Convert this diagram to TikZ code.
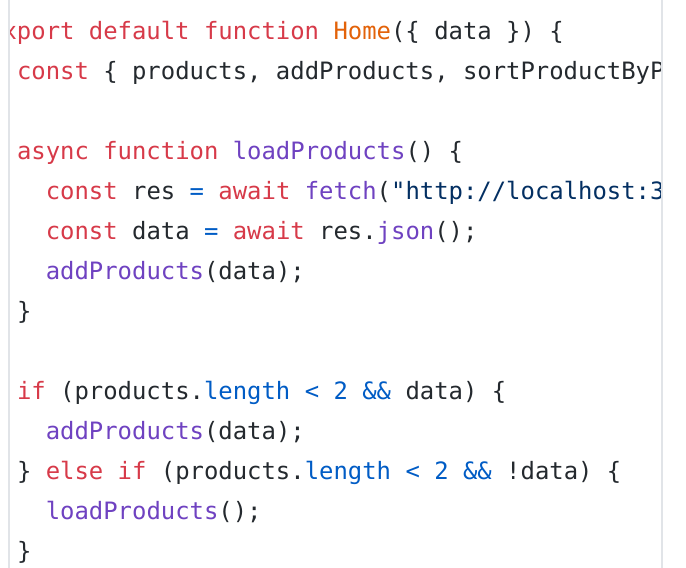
\documentclass[tikz,border=0pt]{standalone}
\usepackage{fontspec}
\newfontfamily\codefont{DejaVu Sans Mono}
\definecolor{kw}{HTML}{D73A49}
\definecolor{fn}{HTML}{6F42C1}
\definecolor{cls}{HTML}{E36209}
\definecolor{cst}{HTML}{005CC5}
\definecolor{str}{HTML}{032F62}
\definecolor{txt}{HTML}{24292E}
\definecolor{rule}{HTML}{E1E4E8}
\newcommand{\K}[1]{\textcolor{kw}{#1}}
\newcommand{\F}[1]{\textcolor{fn}{#1}}
\newcommand{\C}[1]{\textcolor{cst}{#1}}
\newcommand{\Sx}[1]{\textcolor{str}{#1}}
\newcommand{\Hm}[1]{\textcolor{cls}{#1}}
\begin{document}
\begin{tikzpicture}[x=1pt,y=-1pt,
  codeline/.style={anchor=base west,inner sep=0pt,outer sep=0pt,text=txt,
    font=\codefont\fontsize{23.9pt}{40pt}\selectfont\frenchspacing},
  border/.style={draw=rule,line width=2pt}]
\useasboundingbox (0,0) rectangle (686,568);
\fill[white] (0,0) rectangle (686,568);
\begin{scope}
\clip (10,0) rectangle (661,568);
\def\w{14.4}
\def\xo{-11.8}
\node[codeline] (l1) at (\xo,39) {\K{export} \K{default} \K{function} \Hm{Home}(\{ data \}) \{};
\node[codeline] (l2) at (\xo+2*\w,79) {\K{const} \{ products, addProducts, sortProductByPrice \}};
\node[codeline] (l3) at (\xo+2*\w,159) {\K{async} \K{function} \F{loadProducts}() \{};
\node[codeline] (l4) at (\xo+4*\w,199) {\K{const} res \C{=} \K{await} \F{fetch}(\Sx{"http://localhost:3000"});};
\node[codeline] (l5) at (\xo+4*\w,239) {\K{const} data \C{=} \K{await} res.\F{json}();};
\node[codeline] (l6) at (\xo+4*\w,279) {\F{addProducts}(data);};
\node[codeline] (l7) at (\xo+2*\w,319) {\}};
\node[codeline] (l8) at (\xo+2*\w,399) {\K{if} (products.\C{length} \C{<} \C{2} \C{\&\&} data) \{};
\node[codeline] (l9) at (\xo+4*\w,439) {\F{addProducts}(data);};
\node[codeline] (l10) at (\xo+2*\w,479) {\} \K{else} \K{if} (products.\C{length} \C{<} \C{2} \C{\&\&} !data) \{};
\node[codeline] (l11) at (\xo+4*\w,519) {\F{loadProducts}();};
\node[codeline] (l12) at (\xo+2*\w,559) {\}};
\end{scope}
\coordinate (lt) at (8.5,0);
\coordinate (lb) at (8.5,568);
\coordinate (rt) at (662,0);
\coordinate (rb) at (662,568);
\draw[border] (lt) -- (lb);
\draw[border] (rt) -- (rb);
\end{tikzpicture}
\end{document}
